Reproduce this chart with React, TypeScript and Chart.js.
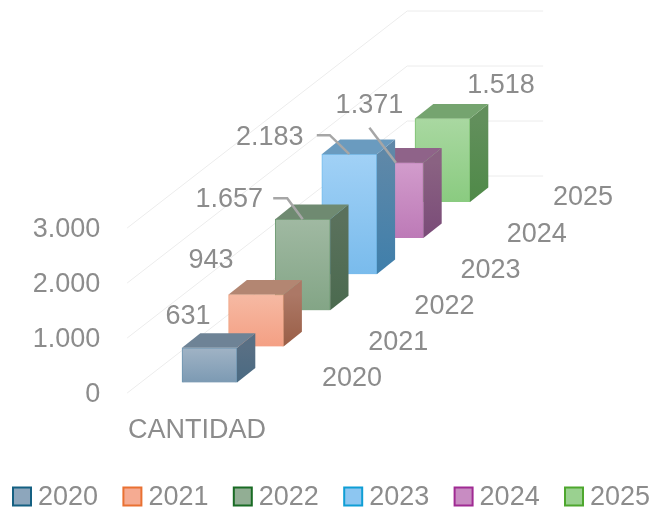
import { useEffect, useRef } from "react";
import { Chart, registerables } from "chart.js";

Chart.register(...registerables);

const years = ["2020", "2021", "2022", "2023", "2024", "2025"];
const values = [631, 943, 1657, 2183, 1371, 1518];
const axisTicks = [0, 1000, 2000, 3000];
const categoryLabel = "CANTIDAD";

// colour tables: [front top, front bottom, edge, top face, side top, side bottom, legend border, legend fill]
const frontTop = ["#a0b3c5", "#f6b9a3", "#a0b9a2", "#a1d1f6", "#d29ccc", "#a9d8a1"];
const frontBottom = ["#7c9ab3", "#f4a084", "#83a586", "#79bbec", "#bd7ab7", "#8acb80"];
const edgeColors = ["#6a93b0", "#ef9c78", "#6f9c74", "#74bdee", "#b868b0", "#7cc070"];
const topFace = ["#6e8396", "#b38672", "#6f8a71", "#6a9bbf", "#8f6389", "#75a46f"];
const sideTop = ["#586f84", "#ac7866", "#5a715c", "#5f88a8", "#8a6282", "#628f5c"];
const sideBottom = ["#4a6a82", "#9a5e46", "#4b6a4f", "#3f7fab", "#7a4b78", "#4f8a48"];
const legendBorder = ["#156082", "#e97132", "#196b24", "#0f9ed5", "#a02b93", "#4ea72e"];
const legendFill = ["#8da6bc", "#f5ab92", "#92ae94", "#8dc6f1", "#c88cc2", "#9ad190"];

// label placement relative to the top centre of each front face
const labelDx = [-21.5, -45, -73.5, -79.5, -26.5, 58.5];
const labelDy = [-32, -35, -21, -18, -58, -34];
// leader lines: [start dx, elbow dx, dy of both], null for none
const leaders = [null, null, [-29.5, -15.5, -21], [-32.5, -19.5, -19], [-26.5, -26.5, -35], null];

const DEPTH_DX = 18.3;
const DEPTH_DY = 14.6;
const STEP_Y = 36.1;
const FONT = "'Liberation Sans', Arial, sans-serif";
const TEXT = "#8c8c8c";
const FONT_SIZE = 27;

const fmt = (v: number) => String(v).replace(/\B(?=(\d{3})+$)/g, ".");

const scene3d = {
  id: "scene3d",
  beforeDatasetsDraw(chart: any) {
    const { ctx, scales } = chart;
    const y = scales.y;
    const x0 = scales.x.left - 59;
    ctx.save();
    ctx.strokeStyle = "#ececec";
    ctx.lineWidth = 1;
    for (const t of axisTicks) {
      const py = y.getPixelForValue(t) + 10.5;
      ctx.beginPath();
      ctx.moveTo(x0, py);
      ctx.lineTo(x0 + 280, py - 217);
      ctx.lineTo(x0 + 416, py - 217);
      ctx.stroke();
    }
    ctx.restore();
  },
  beforeDatasetDraw(chart: any, args: any) {
    chart.ctx.save();
    chart.ctx.translate(0, -STEP_Y * args.index);
  },
  afterDatasetDraw(chart: any, args: any) {
    const { ctx } = chart;
    const i = args.index;
    const el = args.meta.data[0];
    const l = el.x - el.width / 2;
    const r = el.x + el.width / 2;
    const t = el.y;
    const b = el.base;
    const grad = ctx.createLinearGradient(0, t, 0, b);
    grad.addColorStop(0, sideTop[i]);
    grad.addColorStop(1, sideBottom[i]);
    ctx.fillStyle = grad;
    ctx.beginPath();
    ctx.moveTo(r, t);
    ctx.lineTo(r + DEPTH_DX, t - DEPTH_DY);
    ctx.lineTo(r + DEPTH_DX, b - DEPTH_DY);
    ctx.lineTo(r, b);
    ctx.closePath();
    ctx.fill();
    ctx.fillStyle = topFace[i];
    ctx.beginPath();
    ctx.moveTo(l, t);
    ctx.lineTo(l + DEPTH_DX, t - DEPTH_DY);
    ctx.lineTo(r + DEPTH_DX, t - DEPTH_DY);
    ctx.lineTo(r, t);
    ctx.closePath();
    ctx.fill();
    ctx.restore();
  },
  afterDatasetsDraw(chart: any) {
    const { ctx, scales } = chart;
    const { x, y } = scales;
    ctx.save();
    ctx.font = `${FONT_SIZE}px ${FONT}`;
    ctx.fillStyle = TEXT;
    ctx.textBaseline = "middle";

    values.forEach((v, i) => {
      const lift = STEP_Y * i;
      const cx = x.getPixelForValue(i);
      const top = y.getPixelForValue(v) - lift;
      const foot = y.getPixelForValue(0) - lift;
      const ld = leaders[i];
      if (ld) {
        ctx.strokeStyle = "#a6a6a6";
        ctx.lineWidth = 2.5;
        ctx.beginPath();
        ctx.moveTo(cx + ld[0], top + ld[2]);
        ctx.lineTo(cx + ld[1], top + ld[2]);
        ctx.lineTo(cx, top);
        ctx.stroke();
      }
      ctx.textAlign = "center";
      ctx.fillText(fmt(v), cx + labelDx[i], top + labelDy[i] + 1);
      ctx.fillText(years[i], cx + 142.5 - 0.4 * i, foot - 4);
    });

    ctx.textAlign = "center";
    ctx.fillText(categoryLabel, 197, 431);

    // legend row
    years.forEach((yr, i) => {
      const bx = 13 + i * 110.4;
      ctx.fillStyle = legendFill[i];
      ctx.fillRect(bx, 487.5, 18, 18);
      ctx.strokeStyle = legendBorder[i];
      ctx.lineWidth = 2;
      ctx.strokeRect(bx, 487.5, 18, 18);
      ctx.fillStyle = TEXT;
      ctx.textAlign = "left";
      ctx.fillText(yr, bx + 25, 498);
    });
    ctx.restore();
  },
};

export default function App() {
  const ref = useRef<HTMLCanvasElement>(null);
  useEffect(() => {
    document.body.style.margin = "0";
    const chart = new Chart(ref.current!, {
      type: "bar",
      data: {
        labels: years,
        datasets: years.map((yr, i) => ({
          label: yr,
          data: [{ x: yr, y: values[i] }],
          grouped: false,
          clip: false,
          barThickness: 55,
          borderWidth: 1,
          borderColor: edgeColors[i],
          backgroundColor: (c: any) => {
            const area = c.chart.chartArea;
            if (!area) return frontBottom[i];
            const ys = c.chart.scales.y;
            const g = c.chart.ctx.createLinearGradient(0, ys.getPixelForValue(values[i]), 0, ys.getPixelForValue(0));
            g.addColorStop(0, frontTop[i]);
            g.addColorStop(1, frontBottom[i]);
            return g;
          },
        })) as any,
      },
      options: {
        responsive: false,
        animation: false,
        layout: { padding: { top: 217.5, right: 187.2, left: 0, bottom: 0 } },
        plugins: { legend: { display: false }, title: { display: false }, tooltip: { enabled: false } },
        scales: {
          x: {
            grid: { display: false },
            border: { display: false },
            ticks: { display: false },
            afterFit: (s: any) => {
              s.height = 127.5;
              s.paddingLeft = 0;
              s.paddingRight = 0;
            },
          },
          y: {
            min: 0,
            max: 3000,
            grid: { display: false, drawTicks: false },
            border: { display: false },
            afterBuildTicks: (s: any) => {
              s.ticks = axisTicks.map((value) => ({ value }));
            },
            afterFit: (s: any) => {
              s.width = 186.2;
              s.paddingTop = 0;
              s.paddingBottom = 0;
            },
            ticks: {
              padding: 86,
              labelOffset: 12.5,
              color: TEXT,
              font: { family: FONT, size: FONT_SIZE },
              callback: (v: any) => fmt(Number(v)),
            },
          },
        },
      },
      plugins: [scene3d],
    } as any);
    return () => chart.destroy();
  }, []);
  return <canvas ref={ref} width={653} height={510} style={{ display: "block" }} />;
}
